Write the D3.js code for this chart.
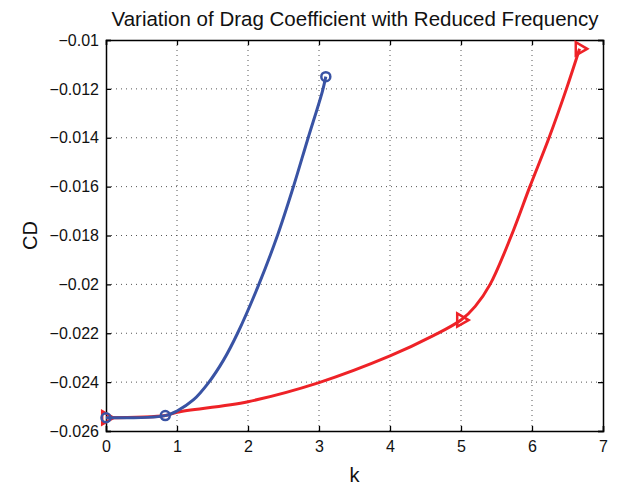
<!DOCTYPE html>
<html>
<head>
<meta charset="utf-8">
<script src="https://cdn.jsdelivr.net/npm/d3@7"></script>
<style>
  body { margin: 0; background: #fff; }
  svg { font-family: "Liberation Sans", Arial, Helvetica, sans-serif; }
</style>
</head>
<body>
<svg id="chart" width="617" height="486"></svg>
<script>
// blue series (circle markers)
const blueK  = [0, 0.835, 1.0, 1.234, 1.445, 1.655, 1.853, 2.153, 2.415, 2.64, 2.837, 3.048, 3.096];
const blueCD = [-0.02546, -0.02537, -0.02518, -0.02472, -0.02402, -0.0231, -0.022, -0.020, -0.018, -0.016, -0.0141, -0.0121, -0.0115];
const blueMarkK = [0, 0.835, 3.096];

// red series (triangle markers)
const redK  = [0, 0.835, 1, 2, 3, 4, 4.61, 5, 5.2, 5.41, 5.71, 5.97, 6.24, 6.485, 6.67];
const redCD = [-0.02546, -0.02537, -0.02523, -0.0248, -0.02402, -0.02293, -0.0221, -0.02146, -0.0209, -0.0200, -0.018, -0.016, -0.014, -0.012, -0.01036];
const redMarkK = [0, 5, 6.67];

const xTicks = [0, 1, 2, 3, 4, 5, 6, 7];
const yTicks = [-0.01, -0.012, -0.014, -0.016, -0.018, -0.02, -0.022, -0.024, -0.026];

const margin = {top: 40, right: 14, bottom: 55, left: 106};
const width = 617 - margin.left - margin.right;
const height = 486 - margin.top - margin.bottom;

const svg = d3.select('#chart');
const chart = svg.append('g')
  .attr('transform', 'translate(' + margin.left + ',' + margin.top + ')');

const x = d3.scaleLinear().domain([0, 7]).range([0, width]);
const y = d3.scaleLinear().domain([-0.026, -0.01]).range([height, 0]);

const fmt = d => String(d).replace('-', '\u2212');

// grid
chart.append('g').selectAll('line').data(xTicks.slice(1, -1)).join('line')
  .attr('x1', d => x(d)).attr('x2', d => x(d))
  .attr('y1', 0).attr('y2', height)
  .attr('stroke', '#555').attr('stroke-width', 1)
  .attr('stroke-dasharray', '1,4');
chart.append('g').selectAll('line').data(yTicks.slice(1, -1)).join('line')
  .attr('y1', d => y(d)).attr('y2', d => y(d))
  .attr('x1', 0).attr('x2', width)
  .attr('stroke', '#555').attr('stroke-width', 1)
  .attr('stroke-dasharray', '1,4');

// axes (ticks inward, MATLAB style)
const xAxis = d3.axisBottom(x).tickValues(xTicks).tickSize(-5).tickPadding(10).tickFormat(d3.format('d'));
const yAxis = d3.axisLeft(y).tickValues(yTicks).tickSize(-5).tickPadding(7).tickFormat(fmt);
const xTop = d3.axisTop(x).tickValues(xTicks).tickSize(-5).tickFormat('');
const yRight = d3.axisRight(y).tickValues(yTicks).tickSize(-5).tickFormat('');

chart.append('g').attr('class', 'x axis')
  .attr('transform', 'translate(0,' + height + ')').call(xAxis);
chart.append('g').attr('class', 'y axis').call(yAxis);
chart.append('g').call(xTop);
chart.append('g').attr('transform', 'translate(' + width + ',0)').call(yRight);

chart.selectAll('.domain').attr('stroke', '#000').attr('stroke-width', 1.5);
chart.selectAll('.tick line').attr('stroke', '#000').attr('stroke-width', 1.3);
chart.selectAll('.tick text').attr('font-size', 16).attr('fill', '#111');

// lines
const line = d3.line()
  .x(d => x(d[0]))
  .y(d => y(d[1]))
  .curve(d3.curveCatmullRom.alpha(0.5));

const redColor = '#ee2227';
const blueColor = '#3953a4';

const redData = redK.map((k, i) => [k, redCD[i]]);
const blueData = blueK.map((k, i) => [k, blueCD[i]]);

chart.append('path').datum(redData)
  .attr('d', line).attr('fill', 'none')
  .attr('stroke', redColor).attr('stroke-width', 3);

// red triangle markers (pointing right)
const tri = d3.symbol().type(d3.symbolTriangle).size(75);
chart.append('g').selectAll('path').data(redMarkK).join('path')
  .attr('d', tri)
  .attr('transform', k => {
    const i = redK.indexOf(k);
    return 'translate(' + x(k) + ',' + y(redCD[i]) + ') rotate(90)';
  })
  .attr('fill', 'none').attr('stroke', redColor).attr('stroke-width', 2.5);

chart.append('path').datum(blueData)
  .attr('d', line).attr('fill', 'none')
  .attr('stroke', blueColor).attr('stroke-width', 3);

chart.append('g').selectAll('circle').data(blueMarkK).join('circle')
  .attr('cx', k => x(k))
  .attr('cy', k => y(blueCD[blueK.indexOf(k)]))
  .attr('r', 4.5)
  .attr('fill', 'none').attr('stroke', blueColor).attr('stroke-width', 2.5);

// labels
svg.append('text')
  .attr('x', 355).attr('y', 26)
  .attr('text-anchor', 'middle').attr('font-size', 20.5).attr('fill', '#111')
  .text('Variation of Drag Coefficient with Reduced Frequency');

svg.append('text')
  .attr('x', margin.left + width / 2).attr('y', 482)
  .attr('text-anchor', 'middle').attr('font-size', 20).attr('fill', '#111')
  .text('k');

svg.append('text')
  .attr('transform', 'translate(37,' + (margin.top + height / 2) + ') rotate(-90)')
  .attr('text-anchor', 'middle').attr('font-size', 20).attr('fill', '#111')
  .text('CD');
</script>
</body>
</html>
